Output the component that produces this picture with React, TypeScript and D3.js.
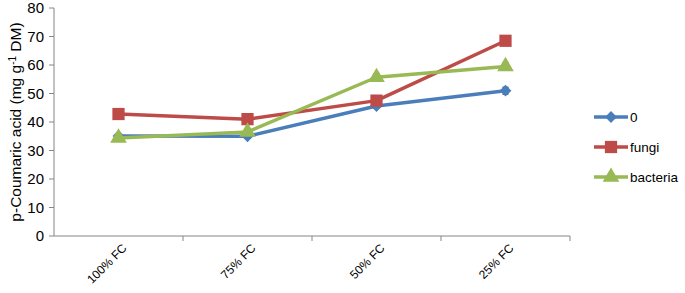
import React from "react";
import * as d3 from "d3";

const categories = ["100% FC", "75% FC", "50% FC", "25% FC"];
const seriesNames = ["0", "fungi", "bacteria"];
const control = [35.1, 35.0, 45.6, 51.0];
const fungi = [42.8, 41.0, 47.5, 68.5];
const bacteria = [34.4, 36.5, 55.7, 59.5];
const controlErr = [0.6, 0.6, 0.8, 1.2];
const fungiErr = [0.5, 0.5, 0.6, 0.6];
const bacteriaErr = [0.5, 0.6, 1.2, 1.3];
const yTicks = [0, 10, 20, 30, 40, 50, 60, 70, 80];

const colors = ["#4A7EBB", "#BE4B48", "#98B954"];
const shapes = [d3.symbolSquare, d3.symbolSquare, d3.symbolTriangle];
const rotations = [45, 0, 0];
const sizes = [70, 150, 120];

export default function App() {
  const W = 685, H = 293;
  const left = 54, right = 570, top = 8, bottom = 236;
  const x = d3.scaleBand().domain(categories).range([left, right]);
  const y = d3.scaleLinear().domain([0, 80]).range([bottom, top]);
  const data = [control, fungi, bacteria];
  const errs = [controlErr, fungiErr, bacteriaErr];
  const line = d3
    .line<number>()
    .x((_, i) => (x(categories[i]) as number) + x.bandwidth() / 2)
    .y((d) => y(d));
  const font = "'Liberation Sans', Arial, sans-serif";
  const axisColor = "#868686";
  return (
    <svg width={W} height={H} style={{ position: "absolute", left: 0, top: 0 }} fontFamily={font}>
      <rect width={W} height={H} fill="#fff" />
      <line x1={left} x2={left} y1={top} y2={bottom} stroke={axisColor} />
      {yTicks.map((t) => (
        <g key={t}>
          <line x1={left - 5} x2={left} y1={y(t)} y2={y(t)} stroke={axisColor} />
          <text x={left - 10} y={y(t)} dy="0.36em" textAnchor="end" fontSize={15} fill="#000">
            {t}
          </text>
        </g>
      ))}
      <line x1={left} x2={right} y1={bottom} y2={bottom} stroke={axisColor} />
      {categories.map((c) => (
        <g key={c}>
          <line
            x1={(x(c) as number) + x.bandwidth()}
            x2={(x(c) as number) + x.bandwidth()}
            y1={bottom}
            y2={bottom + 5}
            stroke={axisColor}
          />
          <text
            transform={`translate(${(x(c) as number) + x.bandwidth() / 2 + 6},${bottom + 10}) rotate(-45)`}
            textAnchor="end"
            dy="0.35em"
            fontSize={12}
            fill="#000"
          >
            {c}
          </text>
        </g>
      ))}
      <text
        transform={`translate(16,${(top + bottom) / 2}) rotate(-90)`}
        textAnchor="middle"
        dy="0.35em"
        fontSize={15.5}
        fill="#000"
      >
        p-Coumaric acid (mg g
        <tspan dy="-5" fontSize={10}>-1</tspan>
        <tspan dy="5"> DM)</tspan>
      </text>
      {data.map((vals, s) => (
        <g key={s}>
          <path d={line(vals) as string} fill="none" stroke={colors[s]} strokeWidth={3.5} strokeLinejoin="round" />
          {vals.map((v, i) => {
            const cx = (x(categories[i]) as number) + x.bandwidth() / 2;
            const e = errs[s][i];
            return (
              <g key={i}>
                <line x1={cx} x2={cx} y1={y(v + e)} y2={y(v - e)} stroke="#000" strokeWidth={1} />
                <line x1={cx - 3} x2={cx + 3} y1={y(v + e)} y2={y(v + e)} stroke="#000" strokeWidth={1} />
                <line x1={cx - 3} x2={cx + 3} y1={y(v - e)} y2={y(v - e)} stroke="#000" strokeWidth={1} />
                <path
                  d={d3.symbol().type(shapes[s]).size(sizes[s])() as string}
                  transform={`translate(${cx},${y(v)}) rotate(${rotations[s]})`}
                  fill={colors[s]}
                />
              </g>
            );
          })}
        </g>
      ))}
      {seriesNames.map((n, s) => {
        const ly = 117 + s * 30;
        return (
          <g key={n}>
            <line x1={594} x2={628} y1={ly} y2={ly} stroke={colors[s]} strokeWidth={3.5} />
            <path
              d={d3.symbol().type(shapes[s]).size(sizes[s])() as string}
              transform={`translate(611,${ly}) rotate(${rotations[s]})`}
              fill={colors[s]}
            />
            <text x={630} y={ly} dy="0.35em" fontSize={13.5} fill="#000">
              {n}
            </text>
          </g>
        );
      })}
    </svg>
  );
}
